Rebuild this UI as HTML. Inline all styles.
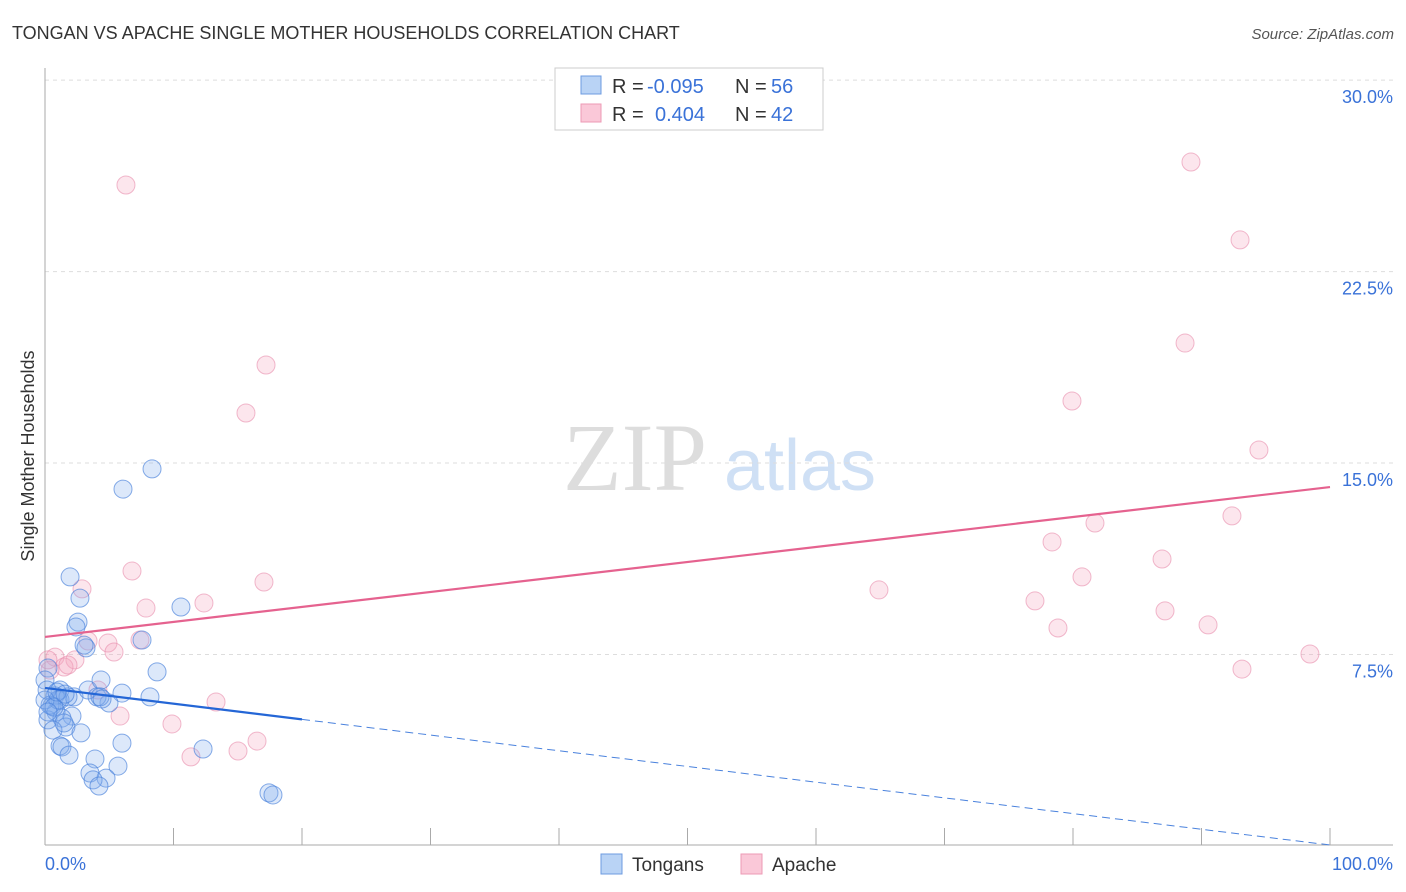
<!DOCTYPE html>
<html><head><meta charset="utf-8"><style>
body{margin:0;background:#fff;font-family:"Liberation Sans",sans-serif}
</style></head><body>
<svg id="c" width="1406" height="892" xmlns="http://www.w3.org/2000/svg" style="display:block">
<text x="12" y="39" font-size="18" fill="#333">TONGAN VS APACHE SINGLE MOTHER HOUSEHOLDS CORRELATION CHART</text>
<text x="1394" y="39" font-size="15" fill="#555" text-anchor="end" font-style="italic">Source: ZipAtlas.com</text>
<text transform="translate(34,456) rotate(-90)" font-size="18" fill="#333" text-anchor="middle">Single Mother Households</text>
<g><text x="635" y="490" font-size="96" fill="#ddd" font-family="Liberation Serif" text-anchor="middle">ZIP</text><text x="800" y="490" font-size="72" fill="#cfe0f5" text-anchor="middle">atlas</text></g>
<g id="grid"></g><g id="marks"></g>
<g>
<rect x="555" y="68" width="268" height="62" fill="#fff" stroke="#ccc"/>
<rect x="581" y="76" width="20" height="18" fill="#b9d3f5" stroke="#6d9be0"/>
<rect x="581" y="104" width="20" height="18" fill="#fac8d8" stroke="#ec9ab5"/>
<text x="612" y="93" font-size="20" fill="#333">R =</text>
<text x="647" y="93" font-size="20" fill="#3a72d8">-0.095</text>
<text x="735" y="93" font-size="20" fill="#333">N =</text>
<text x="771" y="93" font-size="20" fill="#3a72d8">56</text>
<text x="612" y="121" font-size="20" fill="#333">R =</text>
<text x="655" y="121" font-size="20" fill="#3a72d8">0.404</text>
<text x="735" y="121" font-size="20" fill="#333">N =</text>
<text x="771" y="121" font-size="20" fill="#3a72d8">42</text>
</g>
<g>
<rect x="601" y="854" width="21" height="20" fill="#b9d3f5" stroke="#6d9be0"/><text x="632" y="871" font-size="19" fill="#333">Tongans</text>
<rect x="741" y="854" width="21" height="20" fill="#fac8d8" stroke="#ec9ab5"/><text x="772" y="871" font-size="19" fill="#333">Apache</text>
</g>
</svg>
<script>
const blueX=[8.33,6.07,1.95,2.72,10.58,2.57,2.41,7.55,3.19,3.04,8.72,0.23,0,1.17,2.26,3.35,4.36,5.99,8.17,4.98,4.05,0.78,1.17,0.54,0.86,0.23,2.10,1.32,1.63,2.80,0.62,5.99,12.30,1.17,1.32,1.87,3.89,5.68,3.50,4.75,3.74,4.20,17.43,17.74,0.16,0.39,1.01,1.48,0,4.28,0.70,1.79,0.93,0.23,1.56,4.44];
const blueY=[14.77,13.98,10.54,9.71,9.36,8.77,8.58,8.07,7.76,7.87,6.82,6.97,6.50,6.11,5.84,6.11,6.50,5.99,5.84,5.60,5.84,5.88,5.72,5.48,5.25,4.94,5.09,5.01,4.66,4.43,4.54,4.03,3.80,3.92,3.88,3.56,3.41,3.13,2.86,2.66,2.59,2.35,2.08,2.00,6.11,5.52,5.72,4.82,5.72,5.84,5.44,5.84,6.03,5.25,5.95,5.76];
const pinkX=[6.30,17.20,15.64,2.88,6.77,17.04,7.86,12.37,4.90,5.37,7.39,3.35,2.33,0.78,1.48,1.79,0.39,4.12,5.84,9.88,13.31,11.36,15.02,16.50,89.18,93.00,88.72,79.92,94.47,81.71,92.37,78.37,86.93,80.70,64.90,77.04,87.16,78.83,90.51,98.44,93.15,0.23];
const pinkY=[25.89,18.84,16.96,10.07,10.77,10.34,9.32,9.52,7.95,7.60,8.07,8.03,7.29,7.40,7.01,7.09,6.89,6.11,5.09,4.78,5.64,3.49,3.72,4.11,26.79,23.74,19.70,17.43,15.51,12.65,12.93,11.91,11.24,10.54,10.03,9.60,9.21,8.54,8.66,7.52,6.93,7.29];
const yTicks=[7.5,15,22.5,30];
const yTickLabels=["7.5%","15.0%","22.5%","30.0%"];
const xTicks=[0,10,20,30,40,50,60,70,80,90,100];
const pinkTrend=[8.19,14.06];
const blueTrend=[6.19,0.04];
const blueSolidEnd=20;
const NS="http://www.w3.org/2000/svg";
const sx=v=>45+v*12.85, sy=v=>846-v*25.53;
const grid=document.getElementById('grid'), marks=document.getElementById('marks');
function mk(tag,at,p){const e=document.createElementNS(NS,tag);for(const k in at)e.setAttribute(k,at[k]);p.appendChild(e);return e;}
yTicks.forEach((t,i)=>{
 const l=mk('line',{x1:45,x2:1393,y1:sy(t),y2:sy(t),stroke:'#ddd','stroke-dasharray':'4,4'},grid);
 
 
 const tx=mk('text',{x:1393,y:sy(t)+23,'font-size':18,fill:'#3a72d8','text-anchor':'end'},grid);
 tx.textContent=yTickLabels[i];
 
 
});
const ya=mk('line',{x1:45,x2:45,y1:68,y2:845,stroke:'#aaa'},grid);


const xa=mk('line',{x1:45,x2:1393,y1:845,y2:845,stroke:'#aaa'},grid);


xTicks.forEach(t=>{
 const l=mk('line',{x1:sx(t),x2:sx(t),y1:828,y2:845,stroke:'#aaa'},grid);
 
 
});
const x0=mk('text',{x:45,y:870,'font-size':18,fill:'#3a72d8'},grid);x0.textContent='0.0%';


const x1=mk('text',{x:1393,y:870,'font-size':18,fill:'#3a72d8','text-anchor':'end'},grid);x1.textContent='100.0%';


function dots(X,Y,fill,stroke,name){X.forEach((x,i)=>{
 const c=mk('circle',{cx:sx(x),cy:sy(Y[i]),r:9,fill:fill,stroke:stroke,'stroke-width':1},marks);
 
 
});}
dots(pinkX,pinkY,'rgba(244,165,192,0.28)','rgba(232,140,172,0.6)','apache-point');
dots(blueX,blueY,'rgba(130,172,238,0.28)','rgba(70,128,218,0.65)','tongan-point');
const bm=blueTrend[0]+(blueTrend[1]-blueTrend[0])*blueSolidEnd/100;
const pl=mk('line',{x1:sx(0),y1:sy(pinkTrend[0]),x2:sx(100),y2:sy(pinkTrend[1]),stroke:'#e5628f','stroke-width':2.2},marks);


const bl=mk('line',{x1:sx(0),y1:sy(blueTrend[0]),x2:sx(blueSolidEnd),y2:sy(bm),stroke:'#2466d6','stroke-width':2.2},marks);


const bd=mk('line',{x1:sx(blueSolidEnd),y1:sy(bm),x2:sx(100),y2:sy(blueTrend[1]),stroke:'#4a82dd','stroke-width':1,'stroke-dasharray':'8,5'},marks);


</script>
</body></html>
